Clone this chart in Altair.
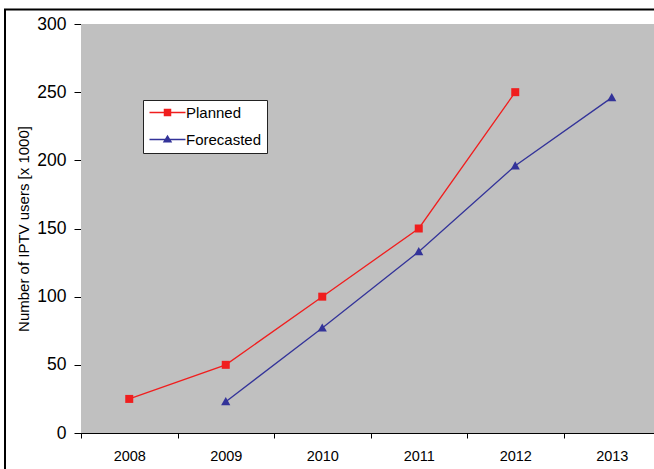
import altair as alt
import pandas as pd

# Yearly IPTV user counts (thousands)
years = ["2008", "2009", "2010", "2011", "2012", "2013"]
planned = [25, 50, 100, 150, 250, None]
forecasted = [None, 23, 77, 133, 196, 246]
series_names = ["Planned", "Forecasted"]
series_colors = ["#F01E1E", "#333399"]
y_ticks = [0, 50, 100, 150, 200, 250, 300]

rows = []
for name, vals in zip(series_names, [planned, forecasted]):
    for yr, v in zip(years, vals):
        if v is not None:
            rows.append({"year": yr, "series": name, "users": v})
df = pd.DataFrame(rows)

plot_w = 573      # visible plot width
band_span = 579   # full width spanned by the six year bands
plot_h = 409

font = "Liberation Sans"

x_enc = alt.X(
    "year:O",
    sort=years,
    scale=alt.Scale(type="band", domain=years, range=[0, band_span],
                    paddingInner=0, paddingOuter=0),
    axis=alt.Axis(title=None, labelAngle=0, tickBand="extent", tickSize=5,
                  tickColor="black", domainColor="black", labelColor="black",
                  labelFontSize=14.5, labelPadding=11, grid=False),
)
y_enc = alt.Y(
    "users:Q",
    scale=alt.Scale(domain=[0, 300], nice=False),
    axis=alt.Axis(values=y_ticks, title="Number of IPTV users [x 1000]",
                  titleFontSize=15, titleFontWeight="normal", titleColor="black",
                  titlePadding=5, labelFontSize=17.5, labelColor="black",
                  labelPadding=8, tickSize=7, tickColor="black",
                  domainColor="black", grid=True, gridWidth=1,
                  gridColor={"condition": {"test": "datum.value === 300", "value": "#808080"},
                             "value": "black"}),
)

line_color = alt.Color("series:N",
                       scale=alt.Scale(domain=series_names, range=series_colors),
                       legend=None)

lines = alt.Chart(df).mark_line(strokeWidth=1.3).encode(
    x=x_enc, y=y_enc, color=line_color, detail="series:N"
)

chart_triangle = "M0,-1.15L1.15,0.9L-1.15,0.9Z"
points = alt.Chart(df).mark_point(filled=True, opacity=1, size=64).encode(
    x=x_enc, y=y_enc, color=line_color,
    shape=alt.Shape("series:N",
                    scale=alt.Scale(domain=series_names, range=["square", chart_triangle]),
                    legend=None),
)

# Legend swatches: a short line with the series marker on it
legend_square = "M-3.6,-0.15H3.6V0.15H-3.6Z M-0.75,-0.75H0.75V0.75H-0.75Z"
legend_triangle = "M-3.6,-0.15H3.6V0.15H-3.6Z M0,-0.95L0.95,0.6H-0.95Z"
legend_def = alt.Legend(title=None, orient="none", legendX=62, legendY=76,
                        padding=5, fillColor="white", strokeColor="#222222",
                        symbolOffset=12, labelOffset=11, rowPadding=11,
                        labelFontSize=15, labelColor="black", symbolStrokeWidth=0)
legend_layer = alt.Chart(df).transform_filter("false").mark_point(
    filled=True, opacity=1, size=100
).encode(
    color=alt.Color("series:N",
                    scale=alt.Scale(domain=series_names, range=series_colors),
                    legend=legend_def),
    shape=alt.Shape("series:N",
                    scale=alt.Scale(domain=series_names, range=[legend_square, legend_triangle]),
                    legend=legend_def),
)

# Grey plot background
plot_bg = alt.Chart(pd.DataFrame({"k": [0]})).mark_rect(color="#C0C0C0").encode(
    x=alt.value(0), x2=alt.value(plot_w),
    y=alt.value(0), y2=alt.value(plot_h),
)

# Outer frame around the whole figure
frame = alt.Chart(pd.DataFrame({"k": [0]})).mark_rect(
    fillOpacity=0, stroke="black", strokeWidth=2
).encode(
    x=alt.value(-76), x2=alt.value(800),
    y=alt.value(-14.5), y2=alt.value(700),
)

chart = alt.layer(plot_bg, frame, lines, points, legend_layer).resolve_scale(
    color="independent", shape="independent"
).properties(
    width=plot_w, height=plot_h,
    autosize=alt.AutoSizeParams(type="none"),
    padding={"left": 81, "top": 24, "right": 0, "bottom": 36},
).configure(font=font).configure_view(stroke="transparent")

chart.save("out.html", embed_options={"renderer": "svg", "actions": False})
